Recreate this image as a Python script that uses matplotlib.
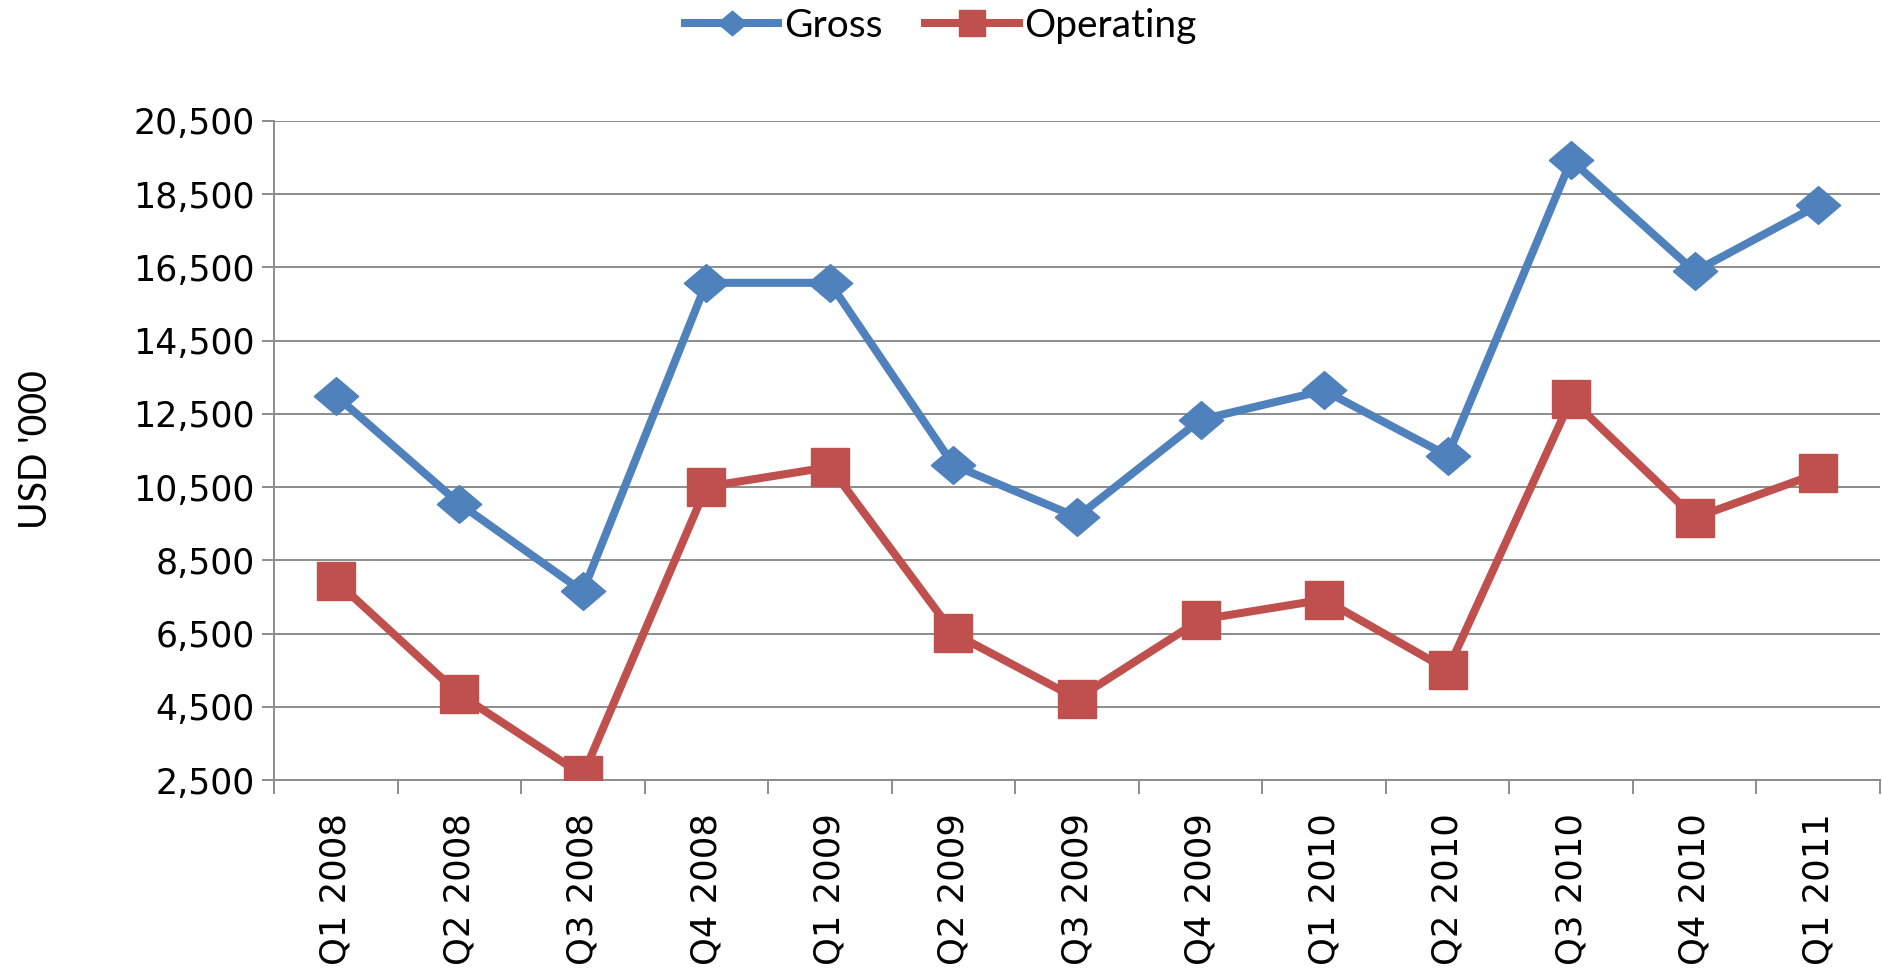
import matplotlib
matplotlib.use("Agg")
import matplotlib.pyplot as plt
from matplotlib.ticker import FuncFormatter, FixedLocator

quarters = ["Q1 2008", "Q2 2008", "Q3 2008", "Q4 2008", "Q1 2009", "Q2 2009",
            "Q3 2009", "Q4 2009", "Q1 2010", "Q2 2010", "Q3 2010", "Q4 2010",
            "Q1 2011"]
gross = [13000, 10050, 7650, 16080, 16080, 11100, 9680, 12340, 13140,
         11360, 19430, 16390, 18200]
operating = [7940, 4840, 2630, 10510, 11050, 6510, 4720, 6880, 7430,
             5510, 12900, 9660, 10880]
yticks = [2500, 4500, 6500, 8500, 10500, 12500, 14500, 16500, 18500, 20500]

blue = "#4F81BD"
red = "#C0504D"
grid_c = "#8C8C8C"

fig = plt.figure(figsize=(18.82, 9.73), dpi=100)
ax = fig.add_axes([274 / 1882, 1 - 780 / 973, (1880 - 274) / 1882, (780 - 121) / 973])

x = list(range(len(quarters)))
diamond = [(-1, 0), (0, 0.85), (1, 0), (0, -0.85), (-1, 0)]
ax.plot(x, gross, color=blue, lw=5.8, marker=diamond, ms=32, label="Gross", zorder=3)
ax.plot(x, operating, color=red, lw=5.8, marker="s", ms=28, label="Operating", zorder=3)

ax.set_xlim(-0.5, len(quarters) - 0.5)
ax.set_ylim(yticks[0], yticks[-1])
ax.yaxis.set_major_locator(FixedLocator(yticks))
ax.yaxis.set_major_formatter(FuncFormatter(lambda v, p: f"{int(v):,}"))
ax.grid(axis="y", color=grid_c, lw=1.4)
ax.set_axisbelow(True)

ax.set_xticks(x)
ax.set_xticklabels(quarters, rotation=90, fontsize=25.5, family="DejaVu Sans")
ax.xaxis.set_minor_locator(FixedLocator([i - 0.5 for i in range(len(quarters) + 1)]))
ax.tick_params(axis="x", which="major", length=0, pad=24)
ax.tick_params(axis="x", which="minor", length=10, width=1.4, color=grid_c)
ax.tick_params(axis="y", length=9, width=1.4, color=grid_c, pad=5, labelsize=25)

for s in ["top", "right"]:
    ax.spines[s].set_visible(False)
for s in ["left", "bottom"]:
    ax.spines[s].set_color(grid_c)
    ax.spines[s].set_linewidth(1.4)

fig.text(36 / 1882, 1 - 450 / 973, "USD '000", rotation=90, ha="center", va="center",
         fontsize=27, family="Lato")

fig.legend(loc="center", bbox_to_anchor=(0.5, 1 - 26 / 973), ncol=2, frameon=False,
           prop={"family": "Lato", "size": 28}, handlelength=2.4, handletextpad=0.15,
           columnspacing=1.1, markerscale=0.65)

fig.savefig("out.png", dpi=100)
